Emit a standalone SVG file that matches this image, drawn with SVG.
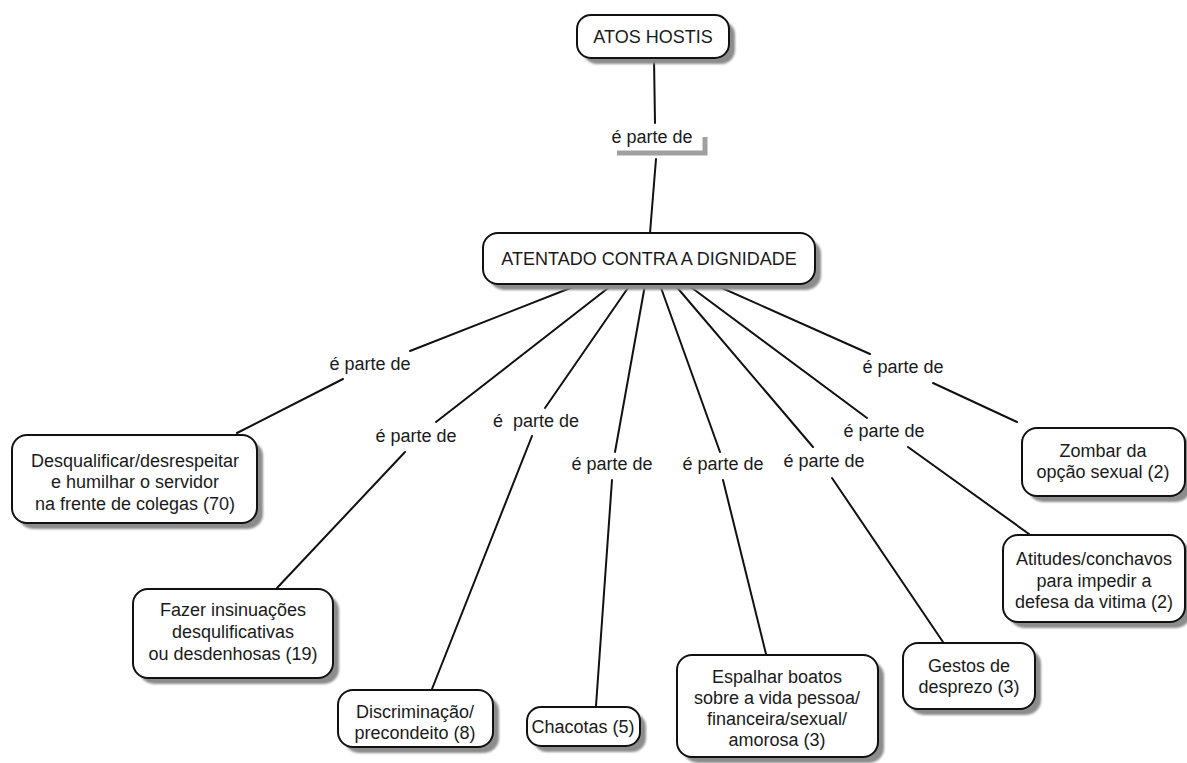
<svg xmlns="http://www.w3.org/2000/svg" width="1187" height="763" viewBox="0 0 1187 763">
  <defs>
    <filter id="soft" x="-10%" y="-10%" width="120%" height="120%">
      <feGaussianBlur stdDeviation="1.2"/>
    </filter>
    <style>
      .box { fill: #ffffff; stroke: #111111; stroke-width: 2; }
      .shadow { fill: #8c8c8c; filter: url(#soft); }
      .txt { font-family: "Liberation Sans", Arial, sans-serif; font-size: 18px; fill: #1a1a1a; text-anchor: middle; }
      .link { stroke: #111111; stroke-width: 2; fill: none; stroke-linecap: round; }
      .lbl { font-family: "Liberation Sans", Arial, sans-serif; font-size: 18px; fill: #1a1a1a; text-anchor: middle; }
    </style>
  </defs>
  <rect width="1187" height="763" fill="#ffffff"/>

  <!-- connectors and their link phrases -->
  <g id="connectors">
    <!-- ATOS HOSTIS -> ATENTADO -->
    <line class="link" x1="654" y1="58" x2="655" y2="123"/>
    <path d="M617 153 H705 V137" stroke="#a0a0a0" stroke-width="5" fill="none"/>
    <text class="lbl" x="652" y="143">é parte de</text>
    <line class="link" x1="656" y1="159" x2="650" y2="233"/>

    <!-- ATENTADO -> Desqualificar -->
    <line class="link" x1="578" y1="285" x2="410" y2="351"/>
    <text class="lbl" x="370" y="370">é parte de</text>
    <line class="link" x1="343" y1="379" x2="237" y2="433"/>

    <!-- ATENTADO -> Fazer insinuações -->
    <line class="link" x1="612" y1="285" x2="436" y2="422"/>
    <text class="lbl" x="416" y="442">é parte de</text>
    <line class="link" x1="405" y1="452" x2="277" y2="588"/>

    <!-- ATENTADO -> Discriminação -->
    <line class="link" x1="630" y1="285" x2="545" y2="408"/>
    <text class="lbl" x="536" y="427" xml:space="preserve">é  parte de</text>
    <line class="link" x1="532" y1="436" x2="432" y2="689"/>

    <!-- ATENTADO -> Chacotas -->
    <line class="link" x1="645" y1="285" x2="615" y2="452"/>
    <text class="lbl" x="612" y="470">é parte de</text>
    <line class="link" x1="612" y1="480" x2="596" y2="706"/>

    <!-- ATENTADO -> Espalhar boatos -->
    <line class="link" x1="660" y1="285" x2="720" y2="452"/>
    <text class="lbl" x="723" y="470">é parte de</text>
    <line class="link" x1="723" y1="480" x2="766" y2="654"/>

    <!-- ATENTADO -> Gestos de desprezo -->
    <line class="link" x1="675" y1="285" x2="813" y2="447"/>
    <text class="lbl" x="824" y="467">é parte de</text>
    <line class="link" x1="832" y1="478" x2="943" y2="642"/>

    <!-- ATENTADO -> Atitudes/conchavos -->
    <line class="link" x1="688" y1="285" x2="867" y2="418"/>
    <text class="lbl" x="884" y="437">é parte de</text>
    <line class="link" x1="908" y1="447" x2="1029" y2="534"/>

    <!-- ATENTADO -> Zombar -->
    <line class="link" x1="713" y1="284" x2="870" y2="354"/>
    <text class="lbl" x="903" y="373">é parte de</text>
    <line class="link" x1="933" y1="383" x2="1017" y2="422"/>
  </g>

  <!-- concept nodes -->
  <g id="atos-hostis">
    <rect class="shadow" x="583" y="21" width="152" height="43" rx="14"/>
    <rect class="box" x="577" y="15" width="152" height="43" rx="14"/>
    <text class="txt" x="653" y="43">ATOS HOSTIS</text>
  </g>

  <g id="atentado">
    <rect class="shadow" x="489" y="239" width="332" height="51" rx="15"/>
    <rect class="box" x="483" y="233" width="332" height="51" rx="15"/>
    <text class="txt" x="649" y="265">ATENTADO CONTRA A DIGNIDADE</text>
  </g>

  <g id="desqualificar">
    <rect class="shadow" x="18" y="441" width="245" height="88" rx="15"/>
    <rect class="box" x="12" y="435" width="245" height="88" rx="15"/>
    <text class="txt" x="135" y="467">Desqualificar/desrespeitar</text>
    <text class="txt" x="135" y="488">e humilhar o servidor</text>
    <text class="txt" x="135" y="510">na frente de colegas (70)</text>
  </g>

  <g id="fazer-insinuacoes">
    <rect class="shadow" x="139" y="595" width="200" height="89" rx="15"/>
    <rect class="box" x="133" y="589" width="200" height="89" rx="15"/>
    <text class="txt" x="233" y="616">Fazer insinuações</text>
    <text class="txt" x="233" y="638">desqulificativas</text>
    <text class="txt" x="233" y="660">ou desdenhosas (19)</text>
  </g>

  <g id="discriminacao">
    <rect class="shadow" x="344" y="696" width="155" height="57" rx="15"/>
    <rect class="box" x="338" y="690" width="155" height="57" rx="15"/>
    <text class="txt" x="415" y="718">Discriminação/</text>
    <text class="txt" x="415" y="739">precondeito (8)</text>
  </g>

  <g id="chacotas">
    <rect class="shadow" x="533" y="713" width="113" height="39" rx="14"/>
    <rect class="box" x="527" y="707" width="113" height="39" rx="14"/>
    <text class="txt" x="583" y="733">Chacotas (5)</text>
  </g>

  <g id="espalhar-boatos">
    <rect class="shadow" x="683" y="661" width="201" height="102" rx="15"/>
    <rect class="box" x="677" y="655" width="201" height="102" rx="15"/>
    <text class="txt" x="777" y="683">Espalhar boatos</text>
    <text class="txt" x="777" y="704">sobre a vida pessoa/</text>
    <text class="txt" x="777" y="725">financeira/sexual/</text>
    <text class="txt" x="777" y="746">amorosa (3)</text>
  </g>

  <g id="gestos">
    <rect class="shadow" x="909" y="649" width="132" height="66" rx="15"/>
    <rect class="box" x="903" y="643" width="132" height="66" rx="15"/>
    <text class="txt" x="969" y="672">Gestos de</text>
    <text class="txt" x="969" y="693">desprezo (3)</text>
  </g>

  <g id="atitudes">
    <rect class="shadow" x="1009" y="541" width="182" height="87" rx="15"/>
    <rect class="box" x="1003" y="535" width="182" height="87" rx="15"/>
    <text class="txt" x="1094" y="565">Atitudes/conchavos</text>
    <text class="txt" x="1094" y="587">para impedir a</text>
    <text class="txt" x="1094" y="608">defesa da vitima (2)</text>
  </g>

  <g id="zombar">
    <rect class="shadow" x="1028" y="434" width="163" height="68" rx="15"/>
    <rect class="box" x="1022" y="428" width="163" height="68" rx="15"/>
    <text class="txt" x="1103" y="457">Zombar da</text>
    <text class="txt" x="1103" y="478">opção sexual (2)</text>
  </g>
</svg>
